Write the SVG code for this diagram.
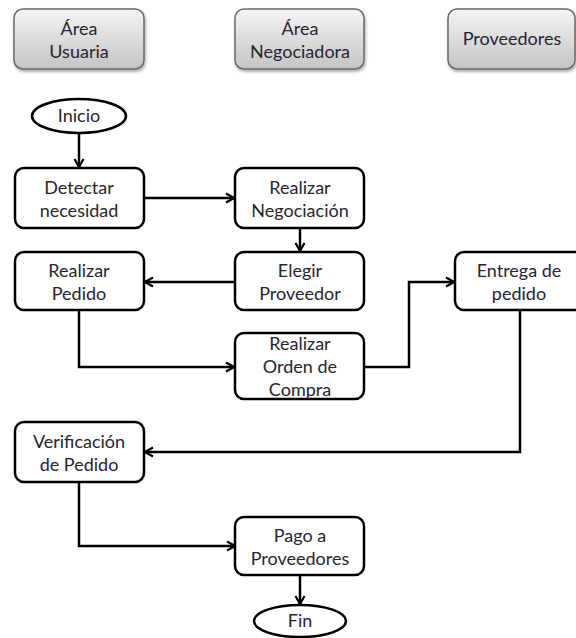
<svg xmlns="http://www.w3.org/2000/svg" width="576" height="638" viewBox="0 0 576 638">
<defs>
<linearGradient id="hdr" x1="0" y1="0" x2="0" y2="1">
<stop offset="0" stop-color="#f5f5f5"/>
<stop offset="1" stop-color="#c4c4c4"/>
</linearGradient>
<filter id="sh" x="-10%" y="-10%" width="130%" height="140%">
<feDropShadow dx="1" dy="2" stdDeviation="1.5" flood-color="#000" flood-opacity="0.35"/>
</filter>
<marker id="arr" viewBox="0 0 12 12" refX="10" refY="6" markerWidth="12" markerHeight="12" markerUnits="userSpaceOnUse" orient="auto">
<path d="M2,1.5 L10,6 L2,10.5" fill="none" stroke="#000" stroke-width="2.2"/>
</marker>
</defs>
<style>
.hdr{fill:url(#hdr);stroke:#6a6a6a;stroke-width:1.5;filter:url(#sh)}
.box{fill:#fff;stroke:#000;stroke-width:2.5}
.t{font-family:Lato,"Open Sans","Liberation Sans",sans-serif;font-size:18px;fill:#2a2430;text-anchor:middle}
.c{fill:none;stroke:#000;stroke-width:2.5;marker-end:url(#arr)}
</style>
<rect width="576" height="638" fill="#fff"/>
<g id="hdr-usuaria"><rect class="hdr" x="14" y="9" width="130" height="60" rx="9"/><text class="t" x="79" y="35">Área</text><text class="t" x="79" y="58">Usuaria</text></g>
<g id="hdr-negociadora"><rect class="hdr" x="235" y="9" width="129" height="60" rx="9"/><text class="t" x="300" y="35">Área</text><text class="t" x="300" y="58">Negociadora</text></g>
<g id="hdr-proveedores"><rect class="hdr" x="448" y="9" width="127" height="60" rx="9"/><text class="t" x="512" y="45">Proveedores</text></g>

<g id="connectors">
<path class="c" d="M79,133 V167"/>
<path class="c" d="M144,198 H234"/>
<path class="c" d="M300,228 V251"/>
<path class="c" d="M235,282 H145"/>
<path class="c" d="M79,310 V367 H234"/>
<path class="c" d="M364,367 H409 V282 H454"/>
<path class="c" d="M520,310 V452 H145"/>
<path class="c" d="M79,482 V546 H235"/>
<path class="c" d="M300,575 V604"/>
</g>

<g id="inicio"><ellipse class="box" cx="79" cy="116" rx="47" ry="17"/><text class="t" x="79" y="122">Inicio</text></g>
<g id="detectar"><rect class="box" x="15" y="168" width="129" height="60" rx="9"/><text class="t" x="79" y="194">Detectar</text><text class="t" x="79" y="217">necesidad</text></g>
<g id="negociacion"><rect class="box" x="235" y="168" width="129" height="60" rx="9"/><text class="t" x="300" y="194">Realizar</text><text class="t" x="300" y="217">Negociación</text></g>
<g id="pedido"><rect class="box" x="15" y="252" width="129" height="58" rx="9"/><text class="t" x="79" y="277">Realizar</text><text class="t" x="79" y="300">Pedido</text></g>
<g id="elegir"><rect class="box" x="235" y="252" width="129" height="58" rx="9"/><text class="t" x="300" y="277">Elegir</text><text class="t" x="300" y="300">Proveedor</text></g>
<g id="orden"><rect class="box" x="235" y="333" width="129" height="66" rx="9"/><text class="t" x="300" y="350">Realizar</text><text class="t" x="300" y="373">Orden de</text><text class="t" x="300" y="396">Compra</text></g>
<g id="entrega"><rect class="box" x="455" y="252" width="129" height="58" rx="9"/><text class="t" x="519" y="277">Entrega de</text><text class="t" x="519" y="300">pedido</text></g>
<g id="verificacion"><rect class="box" x="15" y="422" width="129" height="60" rx="9"/><text class="t" x="79" y="448">Verificación</text><text class="t" x="79" y="471">de Pedido</text></g>
<g id="pago"><rect class="box" x="235" y="517" width="129" height="58" rx="9"/><text class="t" x="300" y="542">Pago a</text><text class="t" x="300" y="565">Proveedores</text></g>
<g id="fin"><ellipse class="box" cx="300" cy="621" rx="46" ry="16"/><text class="t" x="300" y="627">Fin</text></g>
</svg>
